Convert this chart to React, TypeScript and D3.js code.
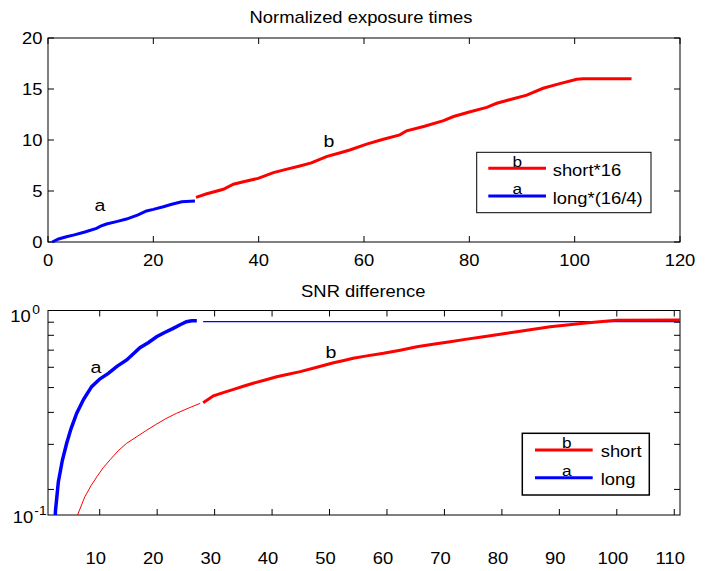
import React, { useEffect, useRef } from 'react';
import * as d3 from 'd3';

// normalized exposure times (top panel)
const longExposure: [number, number][] = [
  [0.8, 0], [2, 0.3], [3.5, 0.52], [5, 0.7], [7, 0.98], [9.2, 1.34], [10, 1.55],
  [11.1, 1.76], [13, 2.0], [14.9, 2.25], [17.1, 2.65], [18.7, 3.04], [20, 3.2],
  [21.9, 3.46], [23.5, 3.7], [25.4, 3.95], [27.9, 4.02],
];
const shortExposure: [number, number][] = [
  [28.1, 4.38], [30, 4.7], [33.3, 5.17], [35.2, 5.66], [37.5, 5.95], [39.9, 6.24],
  [42.8, 6.8], [45, 7.1], [47.8, 7.45], [50, 7.75], [51.6, 8.1], [53, 8.4],
  [55.5, 8.75], [57.3, 9.02], [60.5, 9.6], [63.5, 10.05], [66.8, 10.5], [68.1, 10.9],
  [71.5, 11.35], [75.1, 11.9], [77, 12.3], [80, 12.75], [83.3, 13.2], [85.2, 13.6],
  [88, 14.0], [90.9, 14.4], [94, 15.07], [97, 15.5], [100.4, 15.95], [101.6, 16],
  [110.8, 16],
];

// SNR difference (bottom panel)
const longSnr: [number, number][] = [
  [2.15, 0.14], [2.3, 0.165], [2.8, 0.214], [3.5, 0.26], [4.25, 0.303], [5, 0.345],
  [6.0, 0.397], [7.2, 0.45], [8.6, 0.504], [10, 0.54], [11.5, 0.568], [13, 0.605],
  [14.7, 0.641], [17.0, 0.716], [18.5, 0.75], [19.9, 0.79], [21.3, 0.82],
  [22.8, 0.852], [24, 0.88], [25.1, 0.904], [26, 0.912], [26.9, 0.912],
];
const longSnrTail: [number, number][] = [[28, 0.905], [111, 0.905]];
const shortSnrEarly: [number, number][] = [
  [5.8, 0.14], [6.1, 0.158], [7.4, 0.187], [8.5, 0.207], [9.5, 0.224], [10.6, 0.243],
  [11.8, 0.261], [13.2, 0.283], [14.7, 0.303], [16.5, 0.322], [18.2, 0.341],
  [19.9, 0.36], [21.5, 0.378], [23.4, 0.397], [25.5, 0.416], [27.5, 0.434],
];
const shortSnr: [number, number][] = [
  [28, 0.436], [29.8, 0.464], [31.5, 0.478], [33.3, 0.492], [35, 0.506], [36.7, 0.52],
  [38.8, 0.535], [40.8, 0.551], [42.8, 0.564], [44.9, 0.577], [47.8, 0.6],
  [50.7, 0.625], [52.5, 0.638], [54.1, 0.651], [56.5, 0.665], [59.4, 0.681],
  [62.3, 0.7], [65.2, 0.722], [68, 0.738], [71, 0.755], [73.9, 0.773], [76.8, 0.79],
  [79.7, 0.808], [82.6, 0.826], [85.5, 0.845], [88.4, 0.864], [91.3, 0.878],
  [94.2, 0.891], [97, 0.904], [100, 0.916], [111, 0.918],
];

const topXTicks = [0, 20, 40, 60, 80, 100, 120];
const topYTicks = [0, 5, 10, 15, 20];
const snrXTicks = [10, 20, 30, 40, 50, 60, 70, 80, 90, 100, 110];
const snrMinorTicks = [0.2, 0.3, 0.4, 0.5, 0.6, 0.7, 0.8, 0.9];
const topLegend = ['short*16', 'long*(16/4)'];
const snrLegend = ['short', 'long'];

const FONT = '"Liberation Sans", Arial, Helvetica, sans-serif';
const RED = '#ff0000';
const BLUE = '#0000ff';

const txt = (parent: any, x: number, y: number, s: string, size = 16, anchor = 'start') => {
  parent.append('g')
    .attr('transform', `translate(${x},${y}) scale(1.15,1)`)
    .append('text')
    .attr('text-anchor', anchor)
    .attr('font-family', FONT)
    .attr('font-size', size)
    .attr('fill', '#000')
    .text(s);
};

const App = () => {
  const ref = useRef<SVGSVGElement>(null);

  useEffect(() => {
    const svg = d3.select(ref.current);
    svg.selectAll('*').remove();
    const tick = 6;

    // ---------- top panel ----------
    const t = { left: 48, right: 680, top: 38, bottom: 242 };
    const x1 = d3.scaleLinear().domain([0, 120]).range([t.left, t.right]);
    const y1 = d3.scaleLinear().domain([0, 20]).range([t.bottom, t.top]);
    const line1 = d3.line<[number, number]>().x(d => x1(d[0])).y(d => y1(d[1]));

    const g1 = svg.append('g');
    g1.append('rect')
      .attr('x', t.left).attr('y', t.top)
      .attr('width', t.right - t.left).attr('height', t.bottom - t.top)
      .attr('fill', 'none').attr('stroke', '#000');

    topXTicks.forEach(v => {
      g1.append('line').attr('x1', x1(v)).attr('x2', x1(v)).attr('y1', t.bottom).attr('y2', t.bottom - tick).attr('stroke', '#000');
      g1.append('line').attr('x1', x1(v)).attr('x2', x1(v)).attr('y1', t.top).attr('y2', t.top + tick).attr('stroke', '#000');
      txt(g1, x1(v), 266, String(v), 16, 'middle');
    });
    topYTicks.forEach(v => {
      g1.append('line').attr('x1', t.left).attr('x2', t.left + tick).attr('y1', y1(v)).attr('y2', y1(v)).attr('stroke', '#000');
      g1.append('line').attr('x1', t.right).attr('x2', t.right - tick).attr('y1', y1(v)).attr('y2', y1(v)).attr('stroke', '#000');
      txt(g1, 42.5, y1(v) + 6, String(v), 16, 'end');
    });

    g1.append('path').datum(longExposure).attr('d', line1)
      .attr('fill', 'none').attr('stroke', BLUE).attr('stroke-width', 3);
    g1.append('path').datum(shortExposure).attr('d', line1)
      .attr('fill', 'none').attr('stroke', RED).attr('stroke-width', 3);

    txt(g1, 361, 22.7, 'Normalized exposure times', 16, 'middle');
    txt(g1, 100, 210.7, 'a', 17, 'middle');
    txt(g1, 329, 146.7, 'b', 17, 'middle');

    // legend
    g1.append('rect').attr('x', 476.7).attr('y', 152.3).attr('width', 174.3).attr('height', 60.4)
      .attr('fill', '#fff').attr('stroke', '#000');
    [RED, BLUE].forEach((c, i) => {
      const ly = i === 0 ? 168.3 : 196;
      g1.append('line').attr('x1', 488.3).attr('x2', 546).attr('y1', ly).attr('y2', ly)
        .attr('stroke', c).attr('stroke-width', 3);
      txt(g1, 517.3, ly - 1.6, i === 0 ? 'b' : 'a', 15, 'middle');
      txt(g1, 552.7, ly + 7.7, topLegend[i], 16);
    });

    // ---------- bottom panel ----------
    const b = { left: 48, right: 680, top: 310.5, bottom: 515 };
    const x2 = d3.scaleLinear().domain([1, 111]).range([b.left, b.right]);
    const y2 = d3.scaleLog().domain([0.1, 1]).range([566.5, b.top]);
    const line2 = d3.line<[number, number]>().x(d => x2(d[0])).y(d => y2(d[1]));

    const g2 = svg.append('g');
    svg.append('defs').append('clipPath').attr('id', 'snrclip')
      .append('rect').attr('x', b.left).attr('y', b.top)
      .attr('width', b.right - b.left).attr('height', b.bottom - b.top);

    g2.append('rect')
      .attr('x', b.left).attr('y', b.top)
      .attr('width', b.right - b.left).attr('height', b.bottom - b.top)
      .attr('fill', 'none').attr('stroke', '#000');

    snrXTicks.forEach(v => {
      g2.append('line').attr('x1', x2(v)).attr('x2', x2(v)).attr('y1', b.bottom).attr('y2', b.bottom - tick).attr('stroke', '#000');
      g2.append('line').attr('x1', x2(v)).attr('x2', x2(v)).attr('y1', b.top).attr('y2', b.top + tick).attr('stroke', '#000');
      txt(g2, x2(v) - 4, 564, String(v), 16, 'middle');
    });
    snrMinorTicks.forEach(v => {
      g2.append('line').attr('x1', b.left).attr('x2', b.left + tick).attr('y1', y2(v)).attr('y2', y2(v)).attr('stroke', '#000');
      g2.append('line').attr('x1', b.right).attr('x2', b.right - tick).attr('y1', y2(v)).attr('y2', y2(v)).attr('stroke', '#000');
    });

    // log labels
    txt(g2, 30.7, 321.7, '10', 16, 'end');
    txt(g2, 32.3, 314.3, '0', 12);
    txt(g2, 33.3, 523, '10', 16, 'end');
    txt(g2, 34.3, 515, '-1', 12);

    const curves = g2.append('g').attr('clip-path', 'url(#snrclip)');
    curves.append('path').datum(longSnrTail).attr('d', line2)
      .attr('fill', 'none').attr('stroke', BLUE).attr('stroke-width', 1.2);
    curves.append('path').datum(longSnr).attr('d', line2)
      .attr('fill', 'none').attr('stroke', BLUE).attr('stroke-width', 3.5);
    curves.append('path').datum(shortSnrEarly).attr('d', line2)
      .attr('fill', 'none').attr('stroke', RED).attr('stroke-width', 1);
    curves.append('path').datum(shortSnr).attr('d', line2)
      .attr('fill', 'none').attr('stroke', RED).attr('stroke-width', 3);

    txt(g2, 363.3, 296.7, 'SNR difference', 16, 'middle');
    txt(g2, 96, 373.3, 'a', 17, 'middle');
    txt(g2, 331, 358.3, 'b', 17, 'middle');

    g2.append('rect').attr('x', 522.3).attr('y', 433.3).attr('width', 127).attr('height', 61.7)
      .attr('fill', '#fff').attr('stroke', '#000').attr('stroke-width', 1.5);
    [RED, BLUE].forEach((c, i) => {
      const ly = i === 0 ? 450 : 477.7;
      g2.append('line').attr('x1', 535).attr('x2', 592.7).attr('y1', ly).attr('y2', ly)
        .attr('stroke', c).attr('stroke-width', 3);
      txt(g2, 566.7, ly - 2, i === 0 ? 'b' : 'a', 15, 'middle');
      txt(g2, 600.7, ly + 7, snrLegend[i], 16);
    });
  }, []);

  return (
    <div>
      <svg ref={ref} width={710} height={571}
        style={{ position: 'absolute', left: 0, top: 0, background: '#fff' }} />
    </div>
  );
};

export default App;
